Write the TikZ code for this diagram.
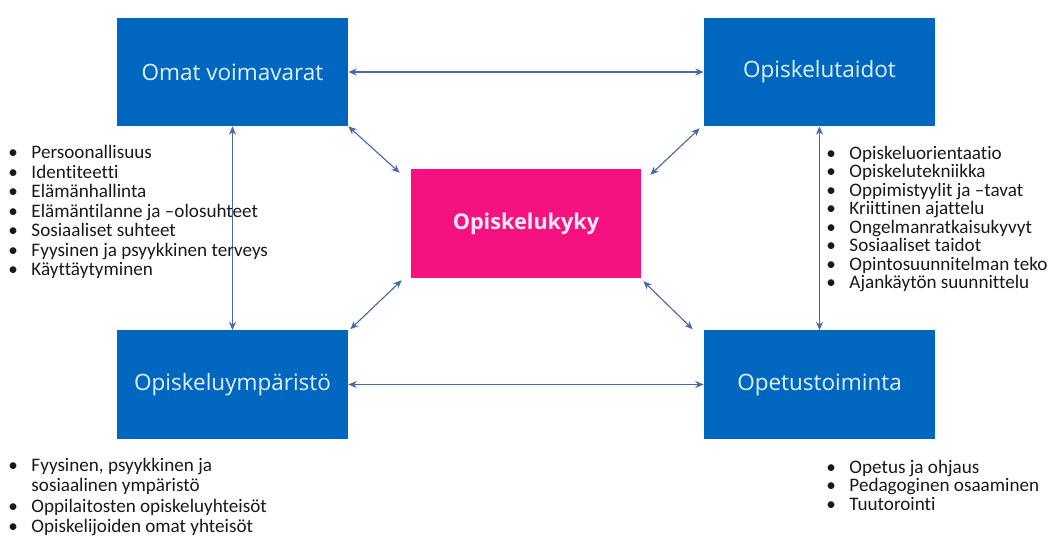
\documentclass[tikz,border=0pt]{standalone}
\usepackage{fontspec}
\setmainfont{Open Sans}
\newfontfamily\listfont[Ligatures={NoCommon,NoRare}]{Carlito}
\usetikzlibrary{arrows.meta,calc}

\definecolor{boxblue}{RGB}{0,103,192}
\definecolor{kykypink}{RGB}{245,18,128}
\definecolor{linkblue}{RGB}{74,104,168}
\definecolor{boxtext}{RGB}{226,241,255}
\definecolor{listtext}{RGB}{25,25,25}

% one bullet line of a list
\newcommand{\li}[1]{\makebox[0.58cm][l]{\textbullet}#1}

\tikzset{
  area/.style={fill=boxblue, text=boxtext, inner sep=0pt,
    minimum width=5.775cm, minimum height=2.7cm,
    font=\fontsize{16}{19}\selectfont},
  core/.style={fill=kykypink, text=white!92!kykypink, inner sep=0pt,
    minimum width=5.75cm, minimum height=2.72cm,
    font=\bfseries\fontsize{15.4}{18}\selectfont},
  link/.style={draw=linkblue, line width=0.8pt,
    {Stealth[length=6pt,width=5pt]}-{Stealth[length=6pt,width=5pt]}},
  list/.style={anchor=north west, align=left, inner sep=0pt, text=listtext}
}

\begin{document}
\begin{tikzpicture}[x=0.025cm, y=-0.025cm]

	\useasboundingbox[fill=white] (0,0) rectangle (1049,535);

	\node[area] (omat)      at (232.5, 72)  {Omat voimavarat};
	\node[area] (taidot)    at (819.5, 72)  {Opiskelutaidot};
	\node[core] (kyky)      at (526, 223.5) {Opiskelukyky};
	\node[area] (ymparisto) at (232.5, 384.5) {Opiskeluympäristö};
	\node[area] (opetus)    at (819.5, 384.5) {Opetustoiminta};

	\draw[link] (omat) -- (taidot);
	\draw[link] (ymparisto) -- (opetus);
	\draw[link] (omat) -- (ymparisto);
	\draw[link] (taidot) -- (opetus);
	\draw[link] (omat.south east) -- ($(kyky.north west)+(-11,4)$);
	\draw[link] ($(taidot.south west)+(-4,2)$) -- ($(kyky.north east)+(9,6)$);
	\draw[link] ($(ymparisto.north east)+(2,-1)$) -- ($(kyky.south west)+(-9,2)$);
	\draw[link] ($(kyky.south east)+(2,3)$) -- ($(opetus.north west)+(-11,-1)$);

	\node[list, font=\listfont\fontsize{13.6}{13.9}\selectfont] (voimalist) at (8,145)
	  {\li{Persoonallisuus}\\ \li{Identiteetti}\\ \li{Elämänhallinta}\\
	   \li{Elämäntilanne ja –olosuhteet}\\ \li{Sosiaaliset suhteet}\\
	   \li{Fyysinen ja psyykkinen terveys}\\ \li{Käyttäytyminen}};
	\node[list, font=\listfont\fontsize{13.6}{13.1}\selectfont] (taitolist) at (826,146)
	  {\li{Opiskeluorientaatio}\\ \li{Opiskelutekniikka}\\ \li{Oppimistyylit ja –tavat}\\
	   \li{Kriittinen ajattelu}\\ \li{Ongelmanratkaisukyvyt}\\ \li{Sosiaaliset taidot}\\
	   \li{Opintosuunnitelman teko}\\ \li{Ajankäytön suunnittelu}};
	\node[list, font=\listfont\fontsize{13.6}{14.4}\selectfont] (ymplist) at (8,458)
	  {\li{Fyysinen, psyykkinen ja}\\ \makebox[0.58cm]{}sosiaalinen ympäristö\\
	   \li{Oppilaitosten opiskeluyhteisöt}\\ \li{Opiskelijoiden omat yhteisöt}};
	\node[list, font=\listfont\fontsize{13.6}{13.1}\selectfont] (opetuslist) at (826,460)
	  {\li{Opetus ja ohjaus}\\ \li{Pedagoginen osaaminen}\\ \li{Tuutorointi}};

\end{tikzpicture}
\end{document}
